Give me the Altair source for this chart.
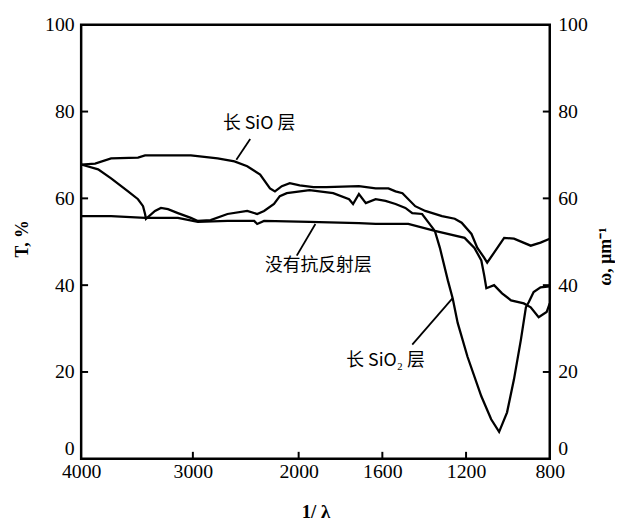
import altair as alt
import pandas as pd

# ---- data (wavenumber, transmission %) ----
sio_wn = [4000, 3875, 3732, 3491, 3428, 3018, 2766, 2607, 2486, 2364,
          2271, 2224, 2159, 2084, 1995, 1929, 1868, 1712, 1632, 1571,
          1537, 1504, 1443, 1395, 1315, 1254, 1221, 1174, 1146, 1113,
          1099, 1066, 1018, 971, 891, 844, 800]
sio_t = [67.8, 68.0, 69.2, 69.4, 69.9, 69.9, 69.2, 68.5, 67.4, 65.5,
         62.3, 61.6, 62.8, 63.5, 63.0, 62.6, 62.6, 62.8, 62.3, 62.3,
         61.6, 61.2, 58.2, 57.1, 55.9, 55.3, 54.4, 51.8, 48.6, 46.3,
         45.2, 47.5, 50.9, 50.7, 49.1, 49.8, 50.7]

sio2_wn = [4000, 3848, 3732, 3580, 3491, 3446, 3428, 3420, 3339, 3286,
           3223, 3134, 3018, 2953, 2832, 2673, 2486, 2392, 2327, 2233,
           2178, 2112, 1948, 1835, 1759, 1740, 1712, 1679, 1632, 1585,
           1537, 1490, 1457, 1410, 1349, 1325, 1287, 1264, 1240, 1193,
           1127, 1080, 1042, 1004, 971, 938, 914, 900, 877, 844, 800]
sio2_t = [67.8, 66.7, 64.6, 61.6, 59.8, 58.2, 56.4, 55.3, 57.1, 57.8,
          57.5, 56.6, 55.5, 54.8, 55.0, 56.4, 57.1, 56.4, 57.1, 58.7,
          60.5, 61.2, 61.9, 61.2, 59.8, 58.7, 61.0, 58.9, 59.8, 59.4,
          58.7, 57.8, 56.6, 56.4, 52.5, 48.6, 41.1, 37.0, 31.3, 23.5,
          14.4, 9.1, 6.2, 10.7, 18.3, 27.4, 34.9, 36.1, 38.4, 39.5, 39.7]

noar_wn = [4000, 3732, 3428, 3134, 2953, 2673, 2420, 2392, 2327, 1948,
           1712, 1632, 1476, 1349, 1207, 1160, 1127, 1113, 1103, 1066,
           1028, 985, 924, 891, 853, 815, 800]
noar_t = [55.9, 55.9, 55.5, 55.5, 54.6, 54.8, 54.8, 54.1, 54.8, 54.6,
          54.3, 54.1, 54.1, 52.5, 50.9, 48.6, 45.7, 42.2, 39.3, 40.0,
          38.1, 36.5, 35.8, 34.9, 32.6, 33.8, 35.8]

# annotations
label_text = ["长 SiO 层", "没有抗反射层", "长 SiO₂ 层"]
label_wn = [2374, 1906, 1585]
label_t = [77.2, 44.5, 22.4]

leader_id = ["a", "a", "b", "b", "c", "c"]
leader_wn = [2458, 2589, 1920, 2018, 1457, 1264]
leader_t = [73.7, 68.9, 54.1, 46.8, 26.3, 37.0]

x_ticks = [4000, 3000, 2000, 1600, 1200, 800]
x_inner_ticks = [3000, 2000, 1600, 1200]
y_ticks = [0, 20, 40, 60, 80, 100]
y_inner_ticks = [20, 40, 60, 80]

# ---- tables ----
curves = pd.concat([
    pd.DataFrame({"wn": sio_wn, "t": sio_t, "series": "SiO"}),
    pd.DataFrame({"wn": sio2_wn, "t": sio2_t, "series": "SiO2"}),
    pd.DataFrame({"wn": noar_wn, "t": noar_t, "series": "none"}),
])
labels = pd.DataFrame({"label": label_text, "wn": label_wn, "t": label_t})
leaders = pd.DataFrame({"id": leader_id, "wn": leader_wn, "t": leader_t})
yt = pd.DataFrame({"v": y_inner_ticks})
xt = pd.DataFrame({"wn": x_inner_ticks})

W, H = 474, 439
SERIF = "Liberation Serif"
CJK = "Noto Sans CJK SC"

xscale = alt.Scale(domain=[4000, 3000, 2000, 800], range=[0, 113, 220, W], nice=False)
yscale = alt.Scale(domain=[0, 100], nice=False, zero=False)

zero_raised = {"condition": {"test": "datum.value == 0", "value": "bottom"}, "value": "middle"}

x_enc = alt.X("wn:Q", scale=xscale, axis=alt.Axis(
    values=x_ticks, title="1/ λ", format="d", labelFlush=False,
    labelFont=SERIF, labelFontSize=20, labelPadding=3, labelColor="black",
    titleFont=SERIF, titleFontSize=19, titleFontWeight="bold", titleColor="black",
    titleY=59, titleBaseline="alphabetic"))

lines = alt.Chart(curves).mark_line(color="black", strokeWidth=2.3).encode(
    x=x_enc,
    y=alt.Y("t:Q", scale=yscale, axis=alt.Axis(
        orient="left", values=y_ticks, title="T, %", labelFlush=False,
        labelBaseline=zero_raised,
        labelFont=SERIF, labelFontSize=20, labelPadding=7, labelColor="black",
        titleFont=SERIF, titleFontSize=18, titleFontWeight="bold", titleColor="black",
        titleAngle=270, titleX=-59, titleY=216, titleAlign="center", titleBaseline="middle")),
    detail="series:N",
)

right_ticks = alt.Chart(yt).mark_rule(color="black", strokeWidth=2).encode(
    y=alt.Y("v:Q", scale=yscale, axis=alt.Axis(
        orient="right", values=y_ticks, title="ω, μm⁻¹", labelFlush=False,
        labelBaseline=zero_raised,
        labelFont=SERIF, labelFontSize=20, labelPadding=8, labelColor="black",
        titleFont=SERIF, titleFontSize=18, titleFontWeight="bold", titleColor="black",
        titleAngle=270, titleX=56, titleY=234, titleAlign="center", titleBaseline="middle")),
    x=alt.value(W - 7), x2=alt.value(W),
)

left_ticks = alt.Chart(yt).mark_rule(color="black", strokeWidth=2).encode(
    y=alt.Y("v:Q", scale=yscale, axis=None),
    x=alt.value(0), x2=alt.value(7),
)

bottom_ticks = alt.Chart(xt).mark_rule(color="black", strokeWidth=2).encode(
    x=alt.X("wn:Q", scale=xscale),
    y=alt.value(H), y2=alt.value(H - 7),
)

leader_lines = alt.Chart(leaders).mark_line(color="black", strokeWidth=1.8).encode(
    x=alt.X("wn:Q", scale=xscale),
    y=alt.Y("t:Q", scale=yscale, axis=None),
    detail="id:N",
)

texts = alt.Chart(labels).mark_text(
    font=CJK, fontSize=18, color="black", align="center", baseline="middle"
).encode(
    x=alt.X("wn:Q", scale=xscale),
    y=alt.Y("t:Q", scale=yscale, axis=None),
    text="label:N",
)

chart = alt.layer(
    lines, right_ticks, left_ticks, bottom_ticks, leader_lines, texts
).resolve_scale(y="independent").properties(
    width=W, height=H,
    autosize=alt.AutoSizeParams(type="none"),
    padding={"left": 74, "top": 14, "right": 66, "bottom": 60},
    background="white",
).configure_view(
    stroke="black", strokeWidth=2.5
).configure_axis(
    domain=False, ticks=False, grid=False
)

chart.save("out.html", embed_options={"renderer": "svg", "actions": False})
